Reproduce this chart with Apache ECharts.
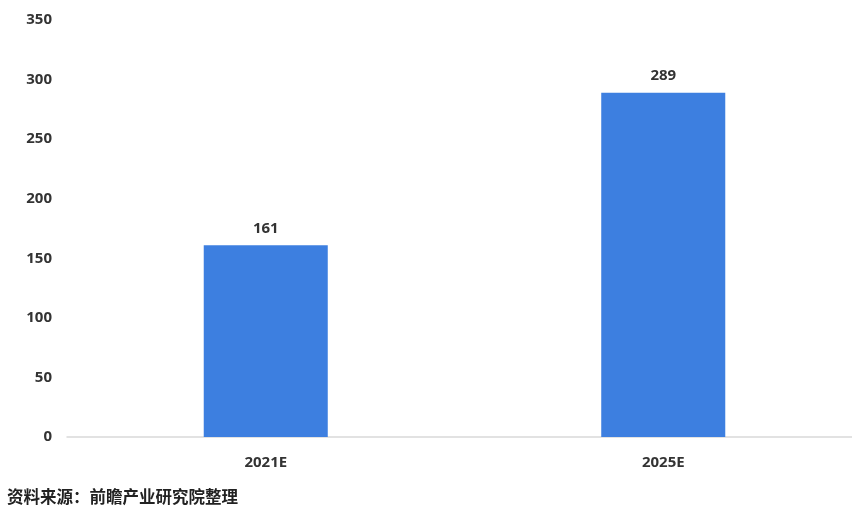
<!DOCTYPE html>
<html><head><meta charset="utf-8">
<script src="https://cdn.jsdelivr.net/npm/echarts@6/dist/echarts.min.js"></script>
<style>html,body{margin:0;padding:0;background:#fff;overflow:hidden;width:852px;height:508px}#c{width:864px;height:508px}</style>
</head><body><div id="c"></div>
<script>
const categories = ['2021E', '2025E'];
const values = [161, 289];
const yTicks = [0, 50, 100, 150, 200, 250, 300, 350];
const sourceText = '资料来源：前瞻产业研究院整理';

const lab = {color: '#333', fontSize: 15, fontWeight: 'bold', fontFamily: 'Open Sans'};
const chart = echarts.init(document.getElementById('c'), null, {renderer: 'canvas'});
chart.setOption({
  animation: false,
  backgroundColor: '#ffffff',
  grid: {left: 67, right: 2, top: 20, bottom: 71},
  xAxis: {
    type: 'category', data: categories,
    axisLine: {show: true, lineStyle: {color: '#d9d9d9', width: 1.5}},
    axisTick: {show: false},
    axisLabel: Object.assign({margin: 18}, lab)
  },
  yAxis: {
    type: 'value', min: yTicks[0], max: yTicks[yTicks.length - 1], interval: 50,
    axisLine: {show: false}, axisTick: {show: false},
    splitLine: {show: false},
    axisLabel: Object.assign({margin: 15}, lab)
  },
  series: [{
    type: 'bar', data: values, barWidth: '31.2%',
    itemStyle: {color: '#3d7fe0'},
    label: Object.assign({show: true, position: 'top', distance: 9}, lab)
  }],
  graphic: [{
    type: 'text', left: 7, top: 488,
    style: {text: sourceText, fill: '#222', font: 'bold 16.5px "Noto Sans CJK SC"'}
  }]
});
</script></body></html>
